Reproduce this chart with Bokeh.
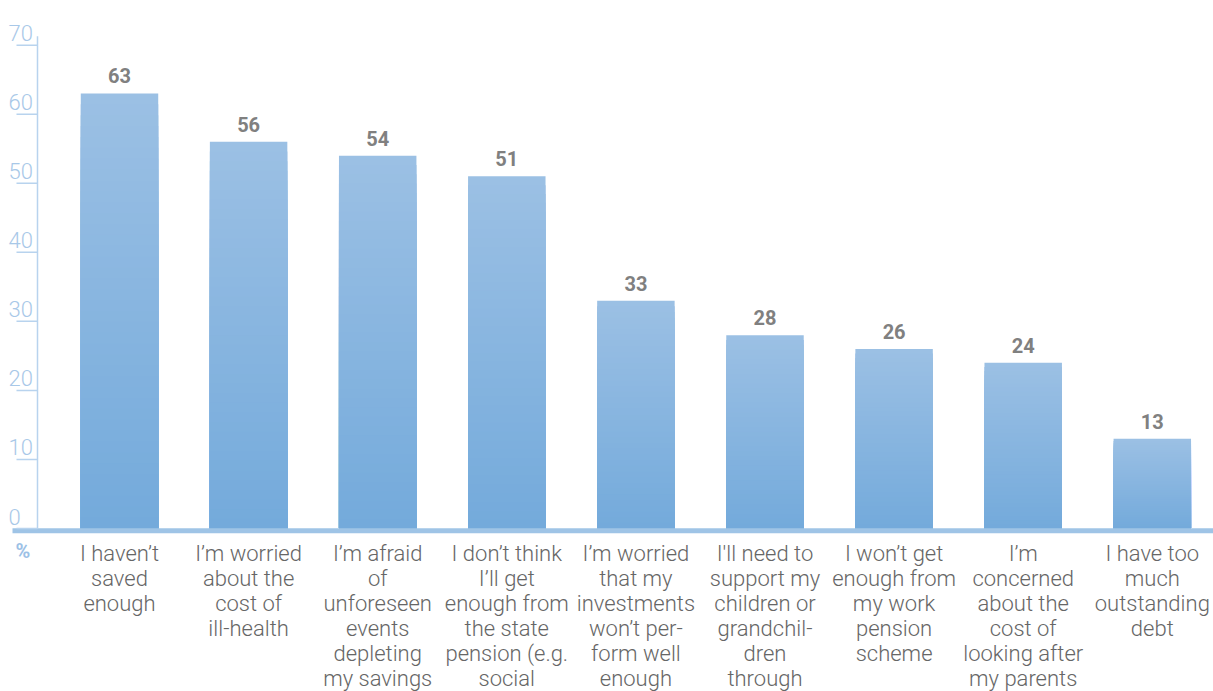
from bokeh.plotting import figure
from bokeh.models import ColumnDataSource
from bokeh.core.properties import value
from bokeh.embed import file_html
from bokeh.resources import INLINE

# ---- data ----
categories = [
    "I haven\u2019t\nsaved\nenough",
    "I\u2019m worried\nabout the\ncost of\nill-health",
    "I\u2019m afraid\nof\nunforeseen\nevents\ndepleting\nmy savings",
    "I don\u2019t think\nI\u2019ll get\nenough from\nthe state\npension (e.g.\nsocial",
    "I\u2019m worried\nthat my\ninvestments\nwon\u2019t per-\nform well\nenough",
    "I'll need to\nsupport my\nchildren or\ngrandchil-\ndren\nthrough",
    "I won\u2019t get\nenough from\nmy work\npension\nscheme",
    "I\u2019m\nconcerned\nabout the\ncost of\nlooking after\nmy parents",
    "I have too\nmuch\noutstanding\ndebt",
]
values = [63, 56, 54, 51, 33, 28, 26, 24, 13]
y_ticks = [0, 10, 20, 30, 40, 50, 60, 70]
y_tick_labels = ["0", "10", "20", "30", "40", "50", "60", "70"]
unit_label = "%"

# ---- layout ----
W, H = 1213, 691
PX_X = 129.1          # pixels per category
PX_Y = 6.905          # pixels per percent
BASE_PX = 528         # pixel row of the zero line
X0 = -119 / PX_X
X1 = X0 + W / PX_X
Y1 = BASE_PX / PX_Y
Y0 = -(H - BASE_PX) / PX_Y

def px_x(px):
    return X0 + px / PX_X

p = figure(width=W, height=H, x_range=(X0, X1), y_range=(Y0, Y1),
           output_backend="svg", toolbar_location=None,
           min_border=0, min_border_left=0, min_border_right=0,
           min_border_top=0, min_border_bottom=0)
p.axis.visible = False
p.grid.visible = False
p.outline_line_color = None
p.background_fill_color = "white"
p.border_fill_color = "white"

# ---- bars with vertical gradient ----
N = 40
top_rgb = (0x9c, 0xc0, 0xe4)
bot_rgb = (0x73, 0xaa, 0xdb)
xs, tops, cols = [], [], []
for k in range(N):
    frac = (N - k) / N
    f = (N - k - 0.5) / N
    c = tuple(int(round(b + (t - b) * f)) for t, b in zip(top_rgb, bot_rgb))
    col = "#%02x%02x%02x" % c
    for i, v in enumerate(values):
        xs.append(i)
        tops.append(v * frac)
        cols.append(col)
p.vbar(x=xs, top=tops, bottom=0, width=0.6, fill_color=cols, line_color=None)

# ---- baseline ----
p.segment(x0=[px_x(12)], y0=[-2.2 / PX_Y], x1=[X1], y1=[-2.2 / PX_Y],
          line_color="#9fc4e6", line_width=5)

# ---- y axis ----
ax = px_x(37)
p.segment(x0=[ax], y0=[0], x1=[ax], y1=[y_ticks[-1] + 1.3], line_color="#b8d3ee", line_width=1.5)
p.segment(x0=[px_x(16)] * len(y_ticks), y0=y_ticks, x1=[ax] * len(y_ticks), y1=y_ticks,
          line_color="#b8d3ee", line_width=1.5)
p.text(x=[px_x(8)] * len(y_ticks), y=y_ticks, text=y_tick_labels,
       text_align="left", text_baseline="bottom", y_offset=-4,
       text_font=value("Roboto Light"), text_font_size="22px", text_color="#a8c8e8")
p.text(x=[px_x(15)], y=[0], text=[unit_label], text_align="left", text_baseline="top",
       y_offset=10, text_font=value("Roboto"), text_font_style="bold",
       text_font_size="20px", text_color="#9cc1e6")

# ---- value labels ----
src = ColumnDataSource(dict(x=list(range(len(values))), y=values,
                            t=[str(v) for v in values]))
p.text(x="x", y="y", text="t", source=src, text_align="center", text_baseline="bottom",
       y_offset=-10, text_font=value("Roboto"), text_font_style="bold",
       text_font_size="20px", text_color="#808080")

# ---- category labels ----
p.text(x=list(range(len(categories))), y=[0] * len(categories), text=categories,
       text_align="center", text_baseline="top", y_offset=12, text_line_height=1.0,
       text_font=value("Roboto Light"), text_font_size="22px", text_color="#666666")

open("out.html", "w").write(file_html(p, INLINE))
